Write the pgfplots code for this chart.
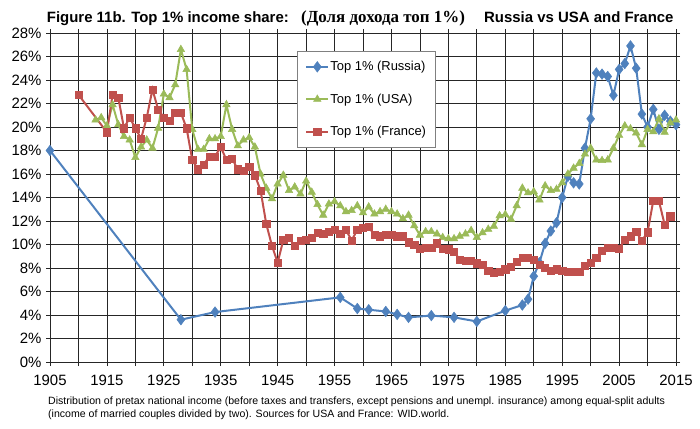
\documentclass[border=0pt]{standalone}
\usepackage{pgfplots}
\pgfplotsset{compat=1.18}
\usepackage{fontspec}
\setmainfont{Liberation Sans}
\newfontfamily\timesfont{Liberation Serif}
\definecolor{rublue}{HTML}{4F81BD}
\definecolor{usgreen}{HTML}{9BBB59}
\definecolor{frred}{HTML}{C0504D}
\begin{document}
\begin{tikzpicture}[x=1bp,y=1bp]
\useasboundingbox (0,0) rectangle (700,428);
\begin{axis}[at={(50bp,66bp)}, anchor=south west, scale only axis,
  width=626bp, height=329bp,
  xmin=1905, xmax=2015, ymin=0, ymax=28,
  xtick={1905,1910,...,2015},
  xticklabels={1905,,1915,,1925,,1935,,1945,,1955,,1965,,1975,,1985,,1995,,2005,,2015},
  ytick={0,2,...,28},
  yticklabel={\pgfmathprintnumber{\tick}\%},
  grid=major, major grid style={black!85, line width=0.8bp},
  axis line style={black!85, line width=0.8bp},
  tick align=outside, tick style={black!85, line width=0.8bp}, major tick length=4bp,
  every tick label/.append style={font=\fontsize{15}{18}\selectfont},
  xticklabel style={yshift=-6bp},
  yticklabel style={xshift=-1bp},
  /pgf/number format/assume math mode=true,
  /pgf/number format/set thousands separator={},
  clip=false,
  legend cell align=left,
  legend style={at={(0.3946,0.945)}, anchor=north west, draw=black!50, line width=0.6bp,
    fill=white, font=\fontsize{13}{15}\selectfont, inner xsep=8bp, inner ysep=9bp,
    row sep=19.5bp, nodes={inner sep=1bp}},
  legend image code/.code={\draw[mark repeat=2,mark phase=2,#1] plot coordinates {(0bp,0bp) (11bp,0bp) (22bp,0bp)};},
]
\addplot[color=rublue, line width=2bp, mark=diamond*, mark size=5.3bp,
  mark options={solid, fill=rublue, line width=0.5bp}] coordinates {
(1905,18.0) (1928,3.6) (1934,4.25) (1956,5.5) (1959,4.55) (1961,4.45) (1964,4.3)
(1966,4.05) (1968,3.8) (1972,3.95) (1976,3.8) (1980,3.45) (1985,4.37) (1988,4.85)
(1989,5.35) (1990,7.3) (1991,8.45) (1992,10.1) (1993,11.15) (1994,11.85) (1995,14.0)
(1996,15.8) (1997,15.25) (1998,15.15) (1999,18.2) (2000,20.7) (2001,24.6) (2002,24.5)
(2003,24.3) (2004,22.7) (2005,24.9) (2006,25.4) (2007,26.9) (2008,25.0) (2009,21.1)
(2010,20.0) (2011,21.5) (2012,19.8) (2013,21.0) (2014,20.5) (2015,20.2)
};
\addlegendentry{Top 1\% (Russia)}
\addplot[color=usgreen, line width=2bp, mark=triangle*, mark size=4.3bp,
  mark options={solid, fill=usgreen, line width=0.5bp}] coordinates {
(1913,20.6) (1914,20.8) (1915,20.1) (1916,21.9) (1917,20.2) (1918,19.2) (1919,18.9)
(1920,17.4) (1921,18.3) (1922,18.9) (1923,18.2) (1924,19.9) (1925,22.8) (1926,22.5)
(1927,23.6) (1928,26.6) (1929,24.9) (1930,19.8) (1931,18.1) (1932,18.1) (1933,19.0)
(1934,19.0) (1935,19.2) (1936,21.9) (1937,19.8) (1938,18.4) (1939,18.9) (1940,19.1)
(1941,18.3) (1942,16.0) (1943,14.8) (1944,13.9) (1945,15.15) (1946,15.9) (1947,14.6)
(1948,14.9) (1949,14.3) (1950,15.4) (1951,14.45) (1952,13.4) (1953,12.5) (1954,13.45)
(1955,13.65) (1956,13.3) (1957,12.8) (1958,12.9) (1959,13.3) (1960,12.7) (1961,13.2)
(1962,12.6) (1963,12.8) (1964,13.0) (1965,12.8) (1966,12.6) (1967,12.2) (1968,12.5)
(1969,11.6) (1970,10.8) (1971,11.1) (1972,11.1) (1973,10.9) (1974,10.6) (1975,10.5)
(1976,10.5) (1977,10.7) (1978,10.9) (1979,11.2) (1980,10.6) (1981,11.0) (1982,11.3)
(1983,11.55) (1984,12.45) (1985,12.55) (1986,12.15) (1987,13.3) (1988,14.8) (1989,14.4)
(1990,14.5) (1991,13.8) (1992,15.0) (1993,14.6) (1994,14.7) (1995,15.25) (1996,16.0)
(1997,16.5) (1998,16.9) (1999,17.7) (2000,18.2) (2001,17.2) (2002,17.15) (2003,17.2)
(2004,18.2) (2005,19.3) (2006,20.1) (2007,19.85) (2008,19.5) (2009,18.5) (2010,19.8)
(2011,19.6) (2012,20.7) (2013,19.55) (2014,20.35) (2015,20.6)
};
\addlegendentry{Top 1\% (USA)}
\addplot[color=frred, line width=2bp, mark=square*, mark size=3.6bp,
  mark options={solid, fill=frred, line width=0.5bp}] coordinates {
(1910,22.75) (1915,19.55) (1916,22.75) (1917,22.5) (1918,19.9) (1919,20.8) (1920,19.9)
(1921,19.0) (1922,20.8) (1923,23.2) (1924,21.5) (1925,20.8) (1926,20.5) (1927,21.2)
(1928,21.2) (1929,19.9) (1930,17.2) (1931,16.4) (1932,16.8) (1933,17.5) (1934,17.5)
(1935,18.3) (1936,17.2) (1937,17.3) (1938,16.4) (1939,16.3) (1940,16.6) (1941,15.9)
(1942,14.6) (1943,11.75) (1944,9.9) (1945,8.45) (1946,10.4) (1947,10.57) (1948,9.86)
(1949,10.3) (1950,10.4) (1951,10.6) (1952,11.0) (1953,10.9) (1954,11.1) (1955,11.25)
(1956,10.9) (1957,11.25) (1958,10.35) (1959,11.25) (1960,11.4) (1961,11.5) (1962,10.8)
(1963,10.7) (1964,10.8) (1965,10.8) (1966,10.7) (1967,10.7) (1968,10.2) (1969,9.98)
(1970,9.64) (1971,9.7) (1972,9.7) (1973,10.1) (1974,9.64) (1975,9.6) (1976,9.4)
(1977,8.7) (1978,8.65) (1979,8.6) (1980,8.4) (1981,8.3) (1982,7.8) (1983,7.6)
(1984,7.7) (1985,7.9) (1986,8.1) (1987,8.5) (1988,8.9) (1989,8.9) (1990,8.7)
(1991,8.3) (1992,8.0) (1993,7.75) (1994,7.9) (1995,7.75) (1996,7.7) (1997,7.66)
(1998,7.66) (1999,8.2) (2000,8.45) (2001,8.9) (2002,9.45) (2003,9.7) (2004,9.7)
(2005,9.65) (2006,10.4) (2007,10.7) (2008,11.1) (2009,10.3) (2010,11.05) (2011,13.7)
(2012,13.7) (2013,11.7) (2014,12.4)
};
\addlegendentry{Top 1\% (France)}
\end{axis}
\node[anchor=base west, inner sep=0, font=\bfseries\fontsize{15}{18}\selectfont] at (46.7,405.7) {Figure 11b. Top 1\% income share:};
\node[anchor=base west, inner sep=0, font=\timesfont\bfseries\fontsize{17}{20}\selectfont] at (301,405.7) {(Доля дохода топ 1\%)};
\node[anchor=base west, inner sep=0, font=\bfseries\fontsize{15}{18}\selectfont] at (484,405.7) {Russia vs USA and France};
\node[anchor=base west, inner sep=0, font=\fontsize{10.6}{13}\selectfont] at (48,23.7) {Distribution of pretax national income (before taxes and transfers, except pensions and unempl. insurance) among equal-split adults};
\node[anchor=base west, inner sep=0, font=\fontsize{10.6}{13}\selectfont] at (48,10.7) {(income of married couples divided by two). Sources for USA and France: WID.world.};
\end{tikzpicture}
\end{document}
